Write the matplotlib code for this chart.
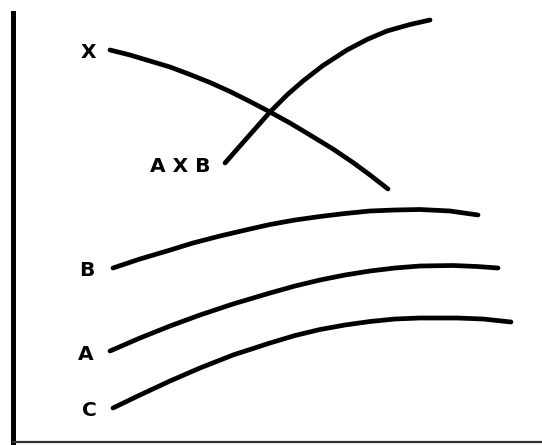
import matplotlib
matplotlib.use("Agg")
import matplotlib.pyplot as plt

W, H = 542, 445

x_curve_x = [110, 130, 150, 170, 190, 210, 230, 250, 270, 290, 310, 333, 353, 370, 388]
x_curve_y = [50, 55, 61, 67, 74.5, 82.5, 91.5, 101.5, 112, 123, 135, 149, 162.5, 175, 189]

axb_x = [225, 247, 270, 287, 303, 323, 347, 367, 387, 410, 430]
axb_y = [163, 138, 112, 95, 81, 65.5, 50, 39.5, 31, 24.5, 20]

b_x = [113, 140, 167, 193, 220, 250, 270, 295, 320, 345, 370, 395, 420, 450, 478]
b_y = [268, 259, 251, 243, 236, 229, 224.5, 220, 216.5, 213.5, 211, 210, 209.5, 211, 215]

a_x = [110, 140, 170, 200, 233, 270, 295, 320, 345, 370, 395, 420, 453, 477, 498]
a_y = [351, 338, 326, 315, 304, 293, 286, 280, 275, 271, 268, 266, 265.5, 266.5, 268]

c_x = [113, 140, 170, 200, 233, 270, 295, 320, 345, 370, 395, 420, 457, 483, 511]
c_y = [408, 395, 381, 368, 355, 343, 335.5, 329.5, 325, 321.5, 319, 318, 318, 319, 322]

labels = ["X", "A X B", "B", "A", "C"]
label_x = [88, 180, 87, 86, 89]
label_y = [52, 166, 270, 354, 410]

fig = plt.figure(figsize=(W / 100, H / 100), dpi=100)
left_px, top_px, bottom_px = 13, 13, 442
ax = fig.add_axes([left_px / W, (H - bottom_px) / H,
                   (W - left_px) / W, (bottom_px - top_px) / H])
ax.set_xlim(left_px, W)
ax.set_ylim(bottom_px, top_px)

for xs, ys in [(x_curve_x, x_curve_y), (axb_x, axb_y), (b_x, b_y),
               (a_x, a_y), (c_x, c_y)]:
    ax.plot(xs, ys, color="black", lw=3.4, solid_capstyle="round",
            solid_joinstyle="round", clip_on=False)

for t, lx, ly in zip(labels, label_x, label_y):
    ax.text(lx, ly, t, ha="center", va="center", fontsize=14.5,
            fontweight="bold", family="DejaVu Sans", color="black")

for s in ["top", "right"]:
    ax.spines[s].set_visible(False)
ax.spines["left"].set_linewidth(3.6)
ax.spines["bottom"].set_linewidth(1.6)
ax.spines["left"].set_color("black")
ax.spines["bottom"].set_color("#333333")
ax.set_xticks([])
ax.set_yticks([])
ax.patch.set_alpha(0)

fig.savefig("out.png", dpi=100, facecolor="white")
